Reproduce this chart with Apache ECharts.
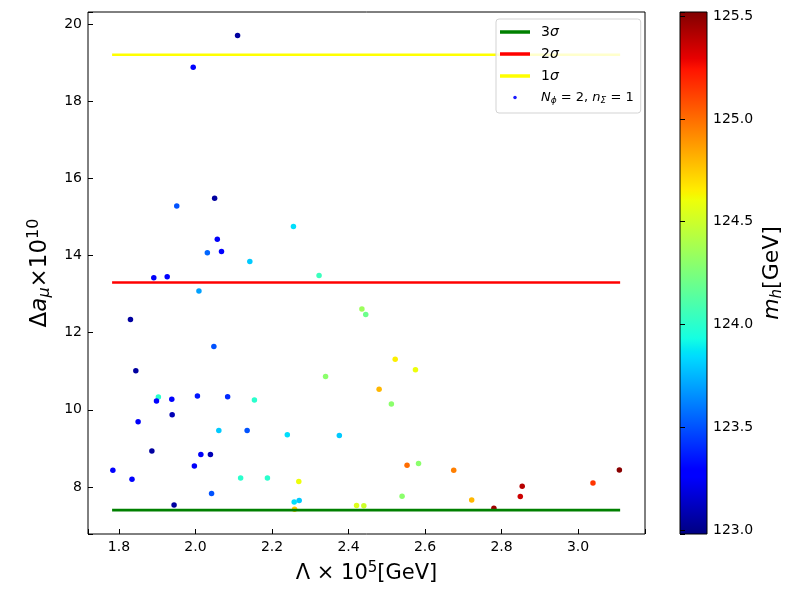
<!DOCTYPE html>
<html>
<head>
<meta charset="utf-8">
<title>Delta a_mu vs Lambda</title>
<script src="https://cdn.jsdelivr.net/npm/echarts@6/dist/echarts.min.js"></script>
<style>
html, body { margin: 0; padding: 0; background: #fff; }
#chart { width: 800px; height: 600px; }
</style>
</head>
<body>
<div id="chart"></div>
<script>
// Lambda x 10^5 [GeV]
var lambdaVals = [2.110, 1.994, 2.050, 1.951, 2.256, 2.057, 2.031, 2.068, 2.142, 1.891,
  1.926, 2.323, 2.009, 1.830, 2.048, 1.844, 2.340, 1.903, 1.898, 1.938,
  2.005, 2.084, 2.154, 1.939, 1.850, 2.061, 2.135, 2.240, 2.376, 1.886,
  2.014, 2.039, 1.997, 1.784, 2.118, 2.188, 1.834, 2.270, 2.042, 2.258,
  2.271, 2.259, 1.944, 2.421, 2.440, 2.435, 2.445, 2.522, 2.575, 2.480,
  2.512, 2.553, 2.583, 2.675, 2.540, 2.722, 2.780, 2.854, 2.849, 3.039, 3.108];
// Delta a_mu x 10^10
var deltaAmu = [19.70, 18.88, 15.48, 15.28, 14.75, 14.42, 14.07, 14.10, 13.84, 13.42,
  13.45, 13.48, 13.08, 12.34, 11.64, 11.01, 10.86, 10.33, 10.23, 10.27,
  10.36, 10.34, 10.25, 9.87, 9.69, 9.46, 9.46, 9.35, 9.33, 8.93,
  8.84, 8.84, 8.54, 8.43, 8.23, 8.23, 8.20, 8.14, 7.83, 7.61,
  7.65, 7.42, 7.53, 7.52, 7.51, 12.61, 12.47, 11.31, 11.04, 10.53,
  10.15, 8.56, 8.61, 8.43, 7.76, 7.66, 7.45, 8.02, 7.75, 8.10, 8.44];
// m_h [GeV]
var mhVals = [123.05, 123.30, 123.05, 123.50, 123.85, 123.25, 123.55, 123.30, 123.80, 123.25,
  123.30, 124.05, 123.70, 123.05, 123.50, 123.05, 124.30, 124.00, 123.30, 123.30,
  123.35, 123.40, 124.00, 123.10, 123.25, 123.80, 123.50, 123.85, 123.80, 123.05,
  123.25, 123.10, 123.25, 123.30, 124.00, 124.00, 123.30, 124.60, 123.50, 123.85,
  123.80, 124.75, 123.05, 124.55, 124.50, 124.35, 124.20, 124.65, 124.60, 124.80,
  124.30, 125.00, 124.30, 124.95, 124.30, 124.80, 125.45, 125.40, 125.35, 125.15, 125.50];

// sigma bands
var bandNames = ['3σ', '2σ', '1σ'];
var bandLevels = [7.4, 13.3, 19.2];
var bandRange = [1.782, 3.11];
var scatterName = 'N';

var mhMin = 122.98, mhMax = 125.52;

// matplotlib jet colormap
function interp(pts, t) {
  for (var i = 1; i < pts.length; i++) {
    if (t <= pts[i][0]) {
      var a = pts[i - 1], b = pts[i];
      return a[1] + (b[1] - a[1]) * (t - a[0]) / (b[0] - a[0]);
    }
  }
  return pts[pts.length - 1][1];
}
function jet(t) {
  var r = interp([[0, 0], [0.35, 0], [0.66, 1], [0.89, 1], [1, 0.5]], t);
  var g = interp([[0, 0], [0.125, 0], [0.375, 1], [0.64, 1], [0.91, 0], [1, 0]], t);
  var b = interp([[0, 0.5], [0.11, 1], [0.34, 1], [0.65, 0], [1, 0]], t);
  return 'rgb(' + Math.round(r * 255) + ',' + Math.round(g * 255) + ',' + Math.round(b * 255) + ')';
}
var jetColors = [];
for (var k = 0; k <= 64; k++) jetColors.push(jet(k / 64));
var jetBreaks = [0, 0.11, 0.125, 0.34, 0.35, 0.375, 0.64, 0.65, 0.66, 0.89, 0.91, 1];
var jetStops = jetBreaks.map(function (t) { return { offset: 1 - t, color: jet(t) }; }).reverse();

var bandColors = ['#008000', '#ff0000', '#ffff00'];
var font = 'DejaVu Sans';

var series = [];
for (var i = 0; i < bandNames.length; i++) {
  series.push({
    name: bandNames[i],
    type: 'line',
    xAxisIndex: 0, yAxisIndex: 0,
    data: [[bandRange[0], bandLevels[i]], [bandRange[1], bandLevels[i]]],
    symbol: 'none',
    lineStyle: { color: bandColors[i], width: 2.6 },
    itemStyle: { color: bandColors[i] },
    z: 5,
    silent: true
  });
}
var pts = [];
for (var j = 0; j < lambdaVals.length; j++) pts.push([lambdaVals[j], deltaAmu[j], mhVals[j]]);
series.push({
  name: scatterName,
  type: 'scatter',
  xAxisIndex: 0, yAxisIndex: 0,
  data: pts,
  symbolSize: 5.5,
  itemStyle: { color: '#1a1aff', opacity: 1 },
  z: 3
});

function stepLabel(step, digits) {
  return function (v) {
    var q = v / step;
    return Math.abs(q - Math.round(q)) > 1e-6 ? '' : v.toFixed(digits);
  };
}

var chart = echarts.init(document.getElementById('chart'));
chart.setOption({
  animation: false,
  backgroundColor: '#fff',
  textStyle: { fontFamily: font },
  grid: [
    { left: 88, top: 12, right: 155, bottom: 66, show: true, borderColor: '#000', borderWidth: 1, backgroundColor: 'transparent' },
    { left: 680, top: 12, width: 27, height: 522, show: true, borderColor: '#000', borderWidth: 1,
      backgroundColor: new echarts.graphic.LinearGradient(0, 0, 0, 1, jetStops) }
  ],
  xAxis: [
    {
      type: 'value', gridIndex: 0, min: 1.719, max: 3.175, splitNumber: 7,
      splitLine: { show: false },
      axisLine: { show: false },
      axisTick: { show: true, inside: true, length: 5, lineStyle: { color: '#000' } },
      axisLabel: { color: '#000', fontSize: 14, fontFamily: font, margin: 6, formatter: stepLabel(0.2, 1) },
      name: '{n|Λ × 10}{sup|5}{n|[GeV]}',
      nameLocation: 'middle', nameGap: 27,
      nameTextStyle: {
        rich: {
          n: { fontSize: 21, fontFamily: font, color: '#000' },
          sup: { fontSize: 15, fontFamily: font, color: '#000', padding: [0, 0, 10, 0] }
        }
      }
    },
    { type: 'value', gridIndex: 1, min: 0, max: 1, show: false }
  ],
  yAxis: [
    {
      type: 'value', gridIndex: 0, min: 6.78, max: 20.31, splitNumber: 7,
      splitLine: { show: false },
      axisLine: { show: false },
      axisTick: { show: true, inside: true, length: 5, lineStyle: { color: '#000' } },
      axisLabel: { color: '#000', fontSize: 14, fontFamily: font, margin: 6, formatter: stepLabel(2, 0) },
      name: '{n|Δ}{i|a}{sub|μ}{n|×10}{sup|10}',
      nameLocation: 'middle', nameGap: 33, nameRotate: 90,
      nameTextStyle: {
        rich: {
          n: { fontSize: 23, fontFamily: font, color: '#000' },
          i: { fontSize: 23, fontFamily: font, fontStyle: 'italic', color: '#000' },
          sub: { fontSize: 16, fontFamily: font, fontStyle: 'italic', color: '#000', padding: [11, 0, 0, 0] },
          sup: { fontSize: 16, fontFamily: font, color: '#000', padding: [0, 0, 11, 0] }
        }
      }
    },
    {
      type: 'value', gridIndex: 1, min: mhMin, max: mhMax, position: 'right',
      splitLine: { show: false },
      axisLine: { show: false },
      axisTick: { show: true, inside: false, length: 5, lineStyle: { color: '#000' } },
      axisLabel: { color: '#000', fontSize: 14, fontFamily: font, margin: 6, formatter: stepLabel(0.5, 1) },
      name: '{i|m}{sub|h}{n|[GeV]}',
      nameLocation: 'middle', nameGap: 52, nameRotate: 90,
      nameTextStyle: {
        rich: {
          n: { fontSize: 22, fontFamily: font, color: '#000' },
          i: { fontSize: 22, fontFamily: font, fontStyle: 'italic', color: '#000' },
          sub: { fontSize: 15, fontFamily: font, fontStyle: 'italic', color: '#000', padding: [11, 0, 0, 0] }
        }
      }
    }
  ],
  visualMap: {
    type: 'continuous',
    show: false,
    seriesIndex: 3,
    dimension: 2,
    min: mhMin, max: mhMax,
    inRange: { color: jetColors }
  },
  legend: {
    left: 496, top: 19,
    orient: 'vertical',
    padding: [6, 7, 8, 4],
    itemGap: 8,
    itemWidth: 30, itemHeight: 3.5,
    backgroundColor: 'rgba(255,255,255,0.8)',
    borderColor: '#d3d3d3', borderWidth: 1, borderRadius: 3,
    z: 10,
    selectedMode: false,
    data: [
      { name: bandNames[0], icon: 'rect', itemStyle: { color: bandColors[0] } },
      { name: bandNames[1], icon: 'rect', itemStyle: { color: bandColors[1] } },
      { name: bandNames[2], icon: 'rect', itemStyle: { color: bandColors[2] } },
      { name: scatterName, icon: 'circle', itemStyle: { color: '#1a1aff' } }
    ],
    formatter: function (name) {
      if (name === scatterName) return '{si|N}{sub|ϕ}{sn| = 2, }{si|n}{sub|Σ}{sn| = 1}';
      return '{n|' + name.charAt(0) + '}{i|σ}';
    },
    textStyle: {
      padding: [0, 0, 0, 6],
      rich: {
        n: { fontSize: 14, fontFamily: font, color: '#000' },
        i: { fontSize: 14, fontFamily: font, fontStyle: 'italic', color: '#000' },
        sn: { fontSize: 13, fontFamily: font, color: '#000' },
        si: { fontSize: 13, fontFamily: font, fontStyle: 'italic', color: '#000' },
        sub: { fontSize: 9, fontFamily: font, fontStyle: 'italic', color: '#000', padding: [6, 0, 0, 0] }
      }
    }
  },
  series: series
});
</script>
</body>
</html>
